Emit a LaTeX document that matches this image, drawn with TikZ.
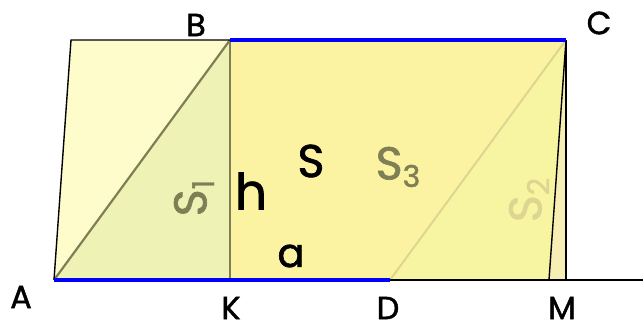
\documentclass[tikz,border=0pt]{standalone}
\usepackage{fontspec}
\setmainfont{Poppins}[AutoFakeBold=1.4]
\definecolor{paleY}{HTML}{FFFCCC}
\definecolor{greenY}{HTML}{EEF2B4}
\definecolor{mainY}{HTML}{FCF3A2}
\definecolor{rightY}{HTML}{F8F5A2}
\definecolor{thinY}{HTML}{F6EEB4}
\definecolor{olive}{HTML}{7F7F55}
\definecolor{lightolive}{HTML}{DCD690}
\definecolor{myblue}{HTML}{0000FF}
\tikzset{
  lbl/.style={font=\fontsize{32}{34}\selectfont\bfseries, inner sep=0pt},
  biglbl/.style={font=\fontsize{46}{50}\selectfont\bfseries, inner sep=0pt},
  edge/.style={draw=black, line width=1.4pt},
  blueedge/.style={draw=myblue, line width=4.5pt},
}
\newcommand{\mysub}[1]{\raisebox{-0.3ex}{\fontsize{30}{32}\selectfont #1}}
\begin{document}
\begin{tikzpicture}[x=1pt,y=-1pt]
\useasboundingbox (0,0) rectangle (643,330);
% points
\coordinate (A) at (54,280);
\coordinate (P) at (71,40);
\coordinate (B) at (230,40);
\coordinate (K) at (230,280);
\coordinate (D) at (390,280);
\coordinate (C) at (566,40);
\coordinate (Cb) at (566,280);
\coordinate (M) at (549,280);
\coordinate (E) at (643,280);
% fills
\fill[paleY] (A) -- (P) -- (B) -- cycle;
\fill[greenY] (A) -- (B) -- (K) -- cycle;
\fill[mainY] (K) -- (B) -- (C) -- (D) -- cycle;
\fill[rightY] (D) -- (C) -- (M) -- cycle;
\fill[thinY] (M) -- (C) -- (Cb) -- cycle;
% inner lines
\draw[olive, line width=2.2pt] (A) -- (B);
\draw[olive, line width=1.2pt] (K) -- (B);
\draw[lightolive, line width=2pt] (D) -- (C);
% outline
\draw[edge] (A) -- (P) -- (B);
\draw[edge] (A) -- (E);
\draw[edge, line width=1.8pt] (C) -- (Cb);
\draw[edge, line width=1.4pt] (C) -- (M);
\draw[blueedge] (B) -- (C);
\draw[blueedge] (A) -- (D);
% labels
\node[lbl] (lB) at (196,25) {B};
\node[lbl] (lC) at (599,23) {C};
\node[lbl] (lA) at (21,297) {A};
\node[lbl] (lK) at (231,308) {K};
\node[lbl] (lD) at (388,308) {D};
\node[lbl] (lM) at (562,308) {M};
\node[biglbl] (lS) at (311,161) {S};
\node[biglbl, font=\fontsize{50}{54}\selectfont\bfseries] (lh) at (251,191) {h};
\node[biglbl, font=\fontsize{40}{44}\selectfont\bfseries] (la) at (291,256) {a};
\node[biglbl, text=olive] (lS3) at (398,167) {S\mysub{3}};
\node[biglbl, text=olive, rotate=90] (lS1) at (194,198) {S\mysub{1}};
\node[biglbl, text=lightolive, rotate=90] (lS2) at (529,200) {S\mysub{2}};
\end{tikzpicture}
\end{document}
